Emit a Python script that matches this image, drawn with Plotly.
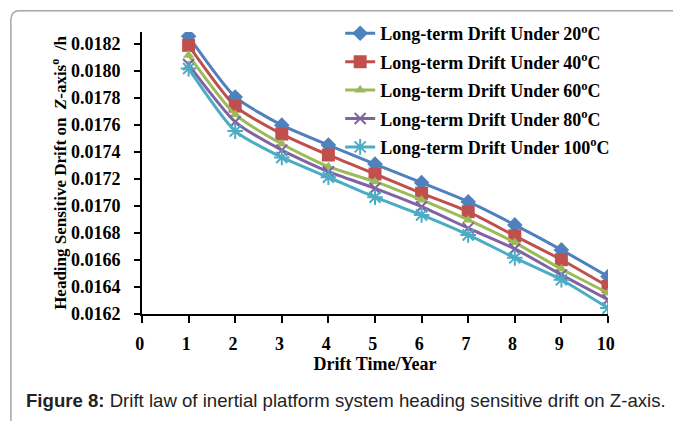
import plotly.graph_objects as go

years = [1, 2, 3, 4, 5, 6, 7, 8, 9, 10]
drift_20 = [0.018257, 0.017808, 0.017599, 0.017451, 0.017311, 0.017173, 0.017032, 0.016860, 0.016675, 0.016478]
drift_40 = [0.018190, 0.017740, 0.017533, 0.017378, 0.017237, 0.017094, 0.016958, 0.016779, 0.016602, 0.016404]
drift_60 = [0.018116, 0.017678, 0.017459, 0.017291, 0.017180, 0.017045, 0.016897, 0.016729, 0.016533, 0.016355]
drift_80 = [0.018048, 0.017624, 0.017414, 0.017254, 0.017131, 0.016995, 0.016836, 0.016683, 0.016490, 0.016306]
drift_100 = [0.018018, 0.017555, 0.017360, 0.017213, 0.017065, 0.016934, 0.016786, 0.016616, 0.016454, 0.016244]
series_names = ["Long-term Drift Under 20<sup>o</sup>C", "Long-term Drift Under 40<sup>o</sup>C",
                "Long-term Drift Under 60<sup>o</sup>C", "Long-term Drift Under 80<sup>o</sup>C",
                "Long-term Drift Under 100<sup>o</sup>C"]
x_ticks = [0, 1, 2, 3, 4, 5, 6, 7, 8, 9, 10]
y_ticks = [0.0162, 0.0164, 0.0166, 0.0168, 0.0170, 0.0172, 0.0174, 0.0176, 0.0178, 0.0180, 0.0182]

colors = ["#4F81BD", "#C0504D", "#9BBB59", "#8064A2", "#4BACC6"]
symbols = ["diamond", "square", "triangle-up", "x-thin-open", "asterisk-open"]
sizes = [12, 13, 10, 11, 13]
series = [drift_20, drift_40, drift_60, drift_80, drift_100]

# page body has an 8px margin; work in screen coordinates and subtract it
OFF = 8
W, H = 681 - OFF, 421 - OFF
L, R, T, B = 141.7 - OFF, 608.0 - OFF, 31.7 - OFF, 314.3 - OFF

fig = go.Figure()
for i, ys in enumerate(series):
    fig.add_trace(go.Scatter(
        x=years, y=ys, name=series_names[i], mode="lines+markers",
        line=dict(color=colors[i], width=3, shape="spline", smoothing=0.6),
        marker=dict(symbol=symbols[i], size=sizes[i], color=colors[i],
                    line=dict(color=colors[i], width=2 if i >= 3 else 0)),
        legendgroup=str(i),
    ))

serif = "Liberation Serif, Times New Roman, serif"
fig.update_layout(
    width=W, height=H,
    margin=dict(l=L, r=W - R, t=T, b=H - B, autoexpand=False),
    paper_bgcolor="white", plot_bgcolor="white",
    font=dict(family=serif, size=18, color="black"),
    showlegend=True,
    legend=dict(x=(340 - OFF - L) / (R - L), y=1.06, xanchor="left", yanchor="top",
                font=dict(family=serif, size=18, color="black", weight="bold"),
                tracegroupgap=2, bgcolor="rgba(0,0,0,0)", itemwidth=30),
    xaxis=dict(range=[0, 10], tickmode="array", tickvals=x_ticks,
               ticktext=[f"<b>{v}</b>\u00a0" for v in x_ticks],
               showgrid=False, zeroline=False, showline=True, linecolor="black", linewidth=2,
               ticks="outside", ticklen=7, tickwidth=1.5, tickcolor="black",
               ticklabelstandoff=5,
               tickfont=dict(family=serif, size=18, color="black"),
               title=dict(text="<b>Drift Time/Year</b>", standoff=0,
                          font=dict(family=serif, size=18, color="black"))),
    yaxis=dict(range=[0.0162, 0.018289], tickmode="array", tickvals=y_ticks,
               ticktext=[f"<b>{v:.4f}</b>" for v in y_ticks],
               showgrid=False, zeroline=False, showline=True, linecolor="black", linewidth=2,
               ticks="outside", ticklen=6, tickwidth=1.5, tickcolor="black",
               ticklabelstandoff=10,
               tickfont=dict(family=serif, size=18, color="black"),
               title=dict(text="<b>Heading Sensitive Drift on  <i>Z</i>-axis<sup>o</sup>  /h</b>", standoff=0,
                          font=dict(family=serif, size=17, color="black"))),
)

# rounded border box (extends beyond the right/bottom edge); coordinates in screen pixels
pw, ph = R - L, B - T
def px(xs):
    return (xs - OFF - L) / pw
def py(ys):
    return (B - (ys - OFF)) / ph
r = 9
x0, y0, x1, y1 = 10.5, 10.5, 720, 460
path = (f"M {px(x0 + r)},{py(y0)} L {px(x1)},{py(y0)} L {px(x1)},{py(y1)} L {px(x0)},{py(y1)} "
        f"L {px(x0)},{py(y0 + r)} Q {px(x0)},{py(y0)} {px(x0 + r)},{py(y0)} Z")
fig.add_shape(type="path", path=path, xref="paper", yref="paper",
              line=dict(color="#A6A6A6", width=1.5), fillcolor="rgba(0,0,0,0)", layer="below")

fig.add_annotation(text="<b>Figure 8:</b> Drift law of inertial platform system heading sensitive drift on Z-axis.",
                   xref="paper", yref="paper", x=px(24), y=py(401), xanchor="left", yanchor="middle",
                   showarrow=False, font=dict(family="Liberation Sans, Arial, sans-serif", size=18.6, color="#222222"))

fig.write_html("out.html")
